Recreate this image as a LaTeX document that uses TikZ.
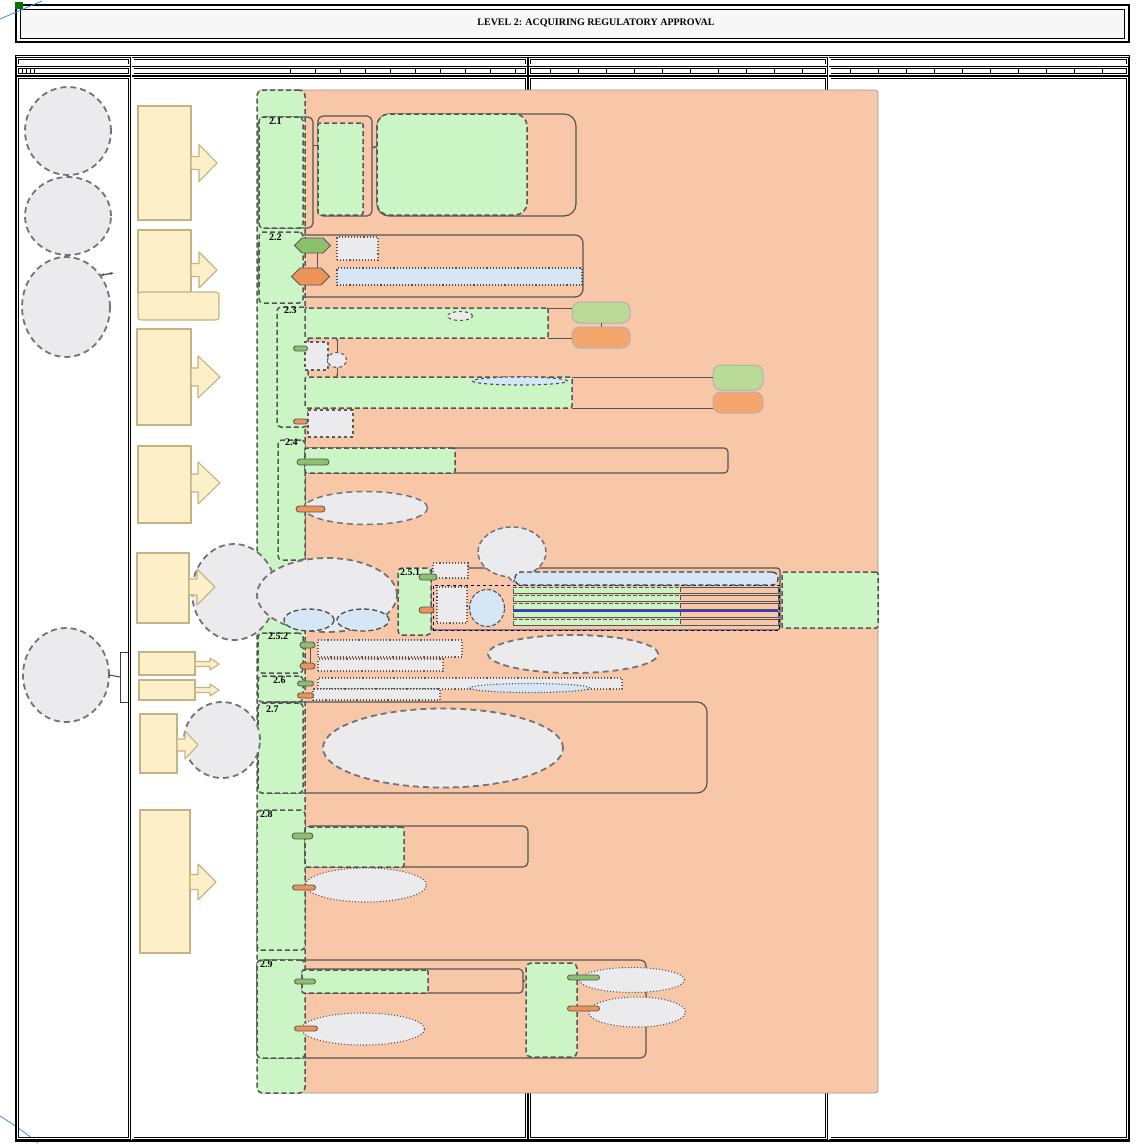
\documentclass[tikz,border=0pt]{standalone}
\usepackage{fontspec}
\setmainfont{Liberation Serif}
\usetikzlibrary{shapes.geometric,shapes.misc,shapes.symbols,shapes.callouts,arrows.meta}
\definecolor{salmonfill}{RGB}{248,199,167}
\definecolor{lanegreen}{RGB}{203,245,197}
\definecolor{notegrey}{RGB}{235,235,237}
\definecolor{noteblue}{RGB}{213,230,246}
\definecolor{inputfill}{RGB}{253,239,199}
\definecolor{inputline}{RGB}{196,180,132}
\definecolor{okgreen}{RGB}{140,192,108}
\definecolor{failorange}{RGB}{238,148,88}
\definecolor{resgreen}{RGB}{186,218,152}
\definecolor{resorange}{RGB}{245,166,108}
\definecolor{edgegrey}{RGB}{85,85,85}
\definecolor{markblue}{RGB}{70,140,210}
\newcommand{\inarrow}[6]{%
  \draw[inarrow] (#1.east |- 0,#2) ++(0,-#3) -- ++(#5,0) -- ++(0,{#3-#4}) -- ++(#6,#4) -- ++(-#6,#4) -- ++(0,{#3-#4}) -- ++(-#5,0) -- cycle;}
\begin{document}
\begin{tikzpicture}[x=1pt,y=-1pt,
  wh/.style 2 args={minimum width=#1,minimum height=#2,inner sep=0pt,outer sep=0pt},
  nw/.style={anchor=north west},
  colframe/.style={draw,line width=0.7pt,double,double distance=1.4pt},
  inputbox/.style={draw=inputline,fill=inputfill,line width=1.1pt},
  inarrow/.style={draw=inputline,fill=inputfill,line width=1.1pt,line join=round},
  note/.style={ellipse,draw=black!55,fill=notegrey,dash pattern=on 6pt off 4pt,line width=1.8pt},
  phase/.style={draw=edgegrey,fill=lanegreen,dash pattern=on 5pt off 3pt,line width=1.5pt,rounded corners=6pt},
  secbox/.style={phase,rounded corners=4pt},
  task/.style={draw=edgegrey,fill=lanegreen,dash pattern=on 5pt off 3pt,line width=1.5pt,rounded corners=2pt},
  lane/.style={draw=edgegrey,line width=1.2pt,rounded corners=6pt},
  memo/.style={draw=gray!70!black,fill=notegrey,dotted,line width=1.1pt},
  bluememo/.style={draw=gray!60!black,fill=noteblue,dotted,line width=1.1pt},
  passpill/.style={rounded rectangle,draw=edgegrey,fill=okgreen,line width=0.8pt},
  failpill/.style={rounded rectangle,draw=edgegrey,fill=failorange,line width=0.8pt},
  passhex/.style={signal,signal to=east and west,draw=edgegrey,fill=okgreen,line width=0.8pt},
  failhex/.style={signal,signal to=east and west,draw=edgegrey,fill=failorange,line width=0.8pt},
  result/.style={draw=gray!60,line width=1pt,rounded corners=8pt},
  conn/.style={draw=edgegrey,line width=1pt},
  seclabel/.style={font=\fontsize{10}{11}\selectfont\bfseries,inner sep=0pt}]
\useasboundingbox (0,0) rectangle (1145,1143);

\node[draw,line width=2.2pt,wh={1113}{37},nw] (frame) at (16,5) {};
\node[draw,line width=1pt,fill=gray!6,wh={1104}{29},nw] (titlebox) at (20.5,9.5) {};
\node[font=\fontsize{10}{12}\selectfont\bfseries,inner sep=0pt] (title) at (596,23) {LEVEL 2: ACQUIRING REGULATORY APPROVAL};
\fill[green!45!black] (15,2) rectangle (23,9);
\draw[markblue,line width=0.8pt] (0,19) -- (42,1);
\draw[markblue,line width=0.8pt] (0,1116) .. controls (15,1125) and (28,1135) .. (38,1143);

\draw[line width=1.4pt] (15.5,55.5) rectangle (1129.5,1141);
\foreach \a/\b in {17.5/129.5,133/526.5,529.5/826.5,830/1127.5}{
  \draw[colframe] (\a,58.5) rectangle (\b,65);
  \draw[colframe] (\a,67.5) rectangle (\b,74.5);
  \draw[colframe] (\a,77.5) rectangle (\b,1138.5);
}
\foreach \x in {290,315,...,515} \draw (\x,68) -- (\x,74);
\foreach \x in {550,578,...,815} \draw (\x,68) -- (\x,74);
\foreach \x in {850,878,...,1115} \draw (\x,68) -- (\x,74);
\foreach \x in {22,26,30,34} \draw (\x,68) -- (\x,74);

\node[draw=gray!80,fill=salmonfill,line width=0.8pt,rounded corners=3pt,wh={620}{1003},nw] (approval) at (258,90) {};
\node[phase,wh={48}{1003},nw] (steps) at (257,90) {};

\node[lane,rounded corners=5pt,wh={54}{111},nw] (lane21) at (259,117) {};
\node[secbox,wh={44}{111},nw] (s21) at (259,117) {};
\node[lane,rounded corners=5pt,wh={54}{100},nw] (lane21b) at (318,116) {};
\node[task,wh={45}{92},nw] (g21a) at (318,123) {};
\node[lane,rounded corners=12pt,wh={199}{102},nw] (lane21c) at (377,114) {};
\node[task,rounded corners=12pt,wh={150}{101},nw] (g21b) at (377,114) {};
\draw[conn] (lane21.east |- 0,145) -- (lane21b.west |- 0,145);
\draw[conn,-{Stealth[length=4pt]}] (lane21b.east |- 0,147) -- (g21b.west |- 0,147);
\node[seclabel,nw] (l21) at (269,118) {2.1};

\node[lane,rounded corners=8pt,wh={324}{62},nw] (lane22) at (259,235) {};
\node[secbox,wh={44}{71},nw] (s22) at (259,232) {};
\draw[conn] (317,245) -- (317,276);
\node[passhex,wh={36}{15},nw] (h22a) at (302,238) {};
\node[memo,wh={41}{23},nw] (b22a) at (337,237) {};
\node[failhex,wh={38}{17},nw] (h22b) at (300,268) {};
\node[bluememo,wh={245}{17},nw] (b22b) at (337,268) {};
\node[seclabel,nw] (l22) at (269,234) {2.2};

\node[secbox,wh={31}{120},nw] (s23) at (277,307) {};
\node[task,wh={243}{30},nw] (g23a) at (305,308) {};
\node[result,fill=resgreen,wh={58}{21},nw] (gr23a) at (572,302) {};
\node[result,fill=resorange,wh={58}{21},nw] (go23a) at (572,327) {};
\draw[conn] (gr23a) -- (go23a);
\draw[conn] (g23a.north east) -- (g23a.north east -| gr23a.west);
\draw[conn] (g23a.south east) -- (g23a.south east -| go23a.west);
\node[memo,dashed,ellipse,wh={25}{9}] (e23a) at (460,316) {};
\node[task,wh={267}{31},nw] (g23b) at (305,377) {};
\node[result,fill=resgreen,wh={50}{25},nw] (gr23b) at (713,365) {};
\node[result,fill=resorange,wh={50}{21},nw] (go23b) at (713,392) {};
\draw[conn] (g23b.north east) -- (g23b.north east -| gr23b.west);
\draw[conn] (g23b.south east) -- (g23b.south east -| go23b.west);
\node[bluememo,dashed,ellipse,wh={95}{8}] (e23b) at (520,381) {};
\draw[conn,{Stealth[length=3pt]}-{Stealth[length=3pt]}] (g23a.south -| 337,0) -- (g23b.north -| 337,0);
\node[memo,dashed,line width=1.4pt,wh={23}{28},nw] (s23a) at (305,342) {};
\node[memo,dashed,ellipse,wh={19}{15}] (c23) at (337,360) {};
\node[memo,dashed,line width=1.4pt,wh={45}{27},nw] (s23b) at (308,410) {};
\node[passpill,wh={14}{5},nw] (p23a) at (296,346) {};
\node[failpill,wh={14}{5},nw] (p23b) at (296,419) {};
\node[seclabel,nw] (l23) at (284,307) {2.3};

\node[secbox,wh={27}{120},nw] (s24) at (278,440) {};
\node[lane,rounded corners=4pt,wh={423}{25},nw] (lane24) at (305,448) {};
\node[task,wh={150}{25},nw] (g24) at (305,448) {};
\node[passpill,wh={32}{6},nw] (p24a) at (300,459) {};
\node[note,line width=1.5pt,wh={123}{33}] (e24) at (366,508) {};
\node[failpill,wh={29}{6},nw] (p24b) at (299,506) {};
\node[seclabel,nw] (l24) at (285,439) {2.4};

\node[lane,rounded corners=3pt,wh={349}{62},nw] (lane251) at (431,568) {};
\node[secbox,wh={33}{67},nw] (s251) at (398,568) {};
\node[draw=blue!45!black,dashed,line width=1pt,wh={346}{45},nw] (bl251) at (433,585) {};
\foreach \y [count=\i] in {587,595,603,611,619}{
  \node[draw=edgegrey,line width=0.9pt,wh={265}{6},nw] (st\i) at (513,\y) {};
  \node[task,line width=1pt,dash pattern=on 4pt off 2pt,rounded corners=0pt,wh={167}{6},nw] (sg\i) at (513,\y) {};
}
\draw[draw=blue!55!gray,line width=1.1pt] (st4.north east) -- (st4.north west);
\node[memo,wh={35}{15},nw] (b251) at (433,563) {};
\node[ellipse callout,draw=black!55,fill=notegrey,dash pattern=on 5pt off 3pt,line width=1.5pt,wh={68}{50},callout absolute pointer={(513,582)}] (e251c) at (512,552) {};
\node[draw=gray!50!black,fill=noteblue,dash pattern=on 5pt off 3pt,line width=1.3pt,rounded corners=6pt,wh={263}{13},nw] (band251) at (515,572) {};
\node[memo,wh={30}{36},nw] (s251b) at (437,587) {};
\node[ellipse,draw=gray!60!black,fill=noteblue,dash pattern=on 4pt off 2pt,line width=1pt,wh={35}{37}] (e251) at (487,608) {};
\node[passpill,wh={18}{6},nw] (p251a) at (422,574) {};
\node[failpill,wh={15}{6},nw] (p251b) at (422,607) {};
\node[task,wh={96}{56},nw] (g251r) at (782,572) {};
\node[seclabel,nw] (l251) at (400,569) {2.5.1};

\node[secbox,wh={45}{40},nw] (s252) at (258,633) {};
\draw[conn] (310,645) -- (310,666);
\node[passpill,wh={15}{6},nw] (p252a) at (303,642) {};
\node[memo,wh={144}{17},nw] (b252a) at (318,640) {};
\node[failpill,wh={15}{6},nw] (p252b) at (303,663) {};
\node[memo,wh={125}{12},nw] (b252b) at (318,659) {};
\node[note,wh={170}{38}] (e252) at (573,654) {};
\node[seclabel,nw] (l252) at (268,633) {2.5.2};

\node[secbox,wh={45}{26},nw] (s26) at (258,676) {};
\node[memo,wh={304}{11},nw] (b26a) at (318,678) {};
\node[bluememo,ellipse,wh={120}{9}] (e26) at (530,688) {};
\node[memo,wh={127}{11},nw] (b26b) at (313,689) {};
\node[passpill,wh={16}{5},nw] (p26a) at (300,681) {};
\node[failpill,wh={16}{5},nw] (p26b) at (300,693) {};
\node[seclabel,nw] (l26) at (273,677) {2.6};

\node[lane,rounded corners=10pt,wh={449}{91},nw] (lane27) at (258,702) {};
\node[secbox,wh={45}{90},nw] (s27) at (258,703) {};
\node[note,wh={240}{79}] (e27) at (443,748) {};
\node[seclabel,nw] (l27) at (266,706) {2.7};

\node[secbox,wh={48}{140},nw] (s28) at (257,810) {};
\node[lane,rounded corners=5pt,wh={223}{41},nw] (lane28) at (305,826) {};
\node[task,wh={99}{40},nw] (g28) at (305,827) {};
\node[passpill,wh={21}{6},nw] (p28a) at (295,833) {};
\node[memo,ellipse,wh={121}{34}] (e28) at (366,885) {};
\node[failpill,wh={23}{5},nw] (p28b) at (295,885) {};
\node[seclabel,nw] (l28) at (260,811) {2.8};

\node[lane,wh={389}{98},nw] (lane29) at (257,960) {};
\node[secbox,wh={48}{98},nw] (s29) at (257,960) {};
\node[lane,rounded corners=4pt,wh={221}{24},nw] (lane29a) at (302,969) {};
\node[task,wh={126}{23},nw] (g29) at (302,970) {};
\node[task,rounded corners=5pt,wh={51}{94},nw] (g29b) at (526,963) {};
\draw[conn,-{Stealth[length=3pt]}] (lane29a.east) -- (lane29a.east -| g29b.west);
\node[passpill,wh={21}{5},nw] (p29a) at (297,979) {};
\node[memo,ellipse,wh={123}{32}] (e29a) at (363,1029) {};
\node[failpill,wh={23}{5},nw] (p29b) at (297,1026) {};
\node[memo,ellipse,wh={105}{25}] (e29b) at (632,980) {};
\node[memo,ellipse,wh={97}{30}] (e29c) at (637,1012) {};
\node[passpill,wh={32}{5},nw] (p29c) at (570,975) {};
\node[failpill,wh={32}{5},nw] (p29d) at (570,1006) {};
\node[seclabel,nw] (l29) at (260,961) {2.9};

\node[note,wh={84}{96}] (n5) at (234,592) {};
\node[note,wh={140}{74}] (e25) at (327,595) {};
\node[ellipse,draw=gray!60!black,fill=noteblue,dash pattern=on 5pt off 3pt,line width=1.3pt,wh={50}{22}] (e25a) at (309,620) {};
\node[ellipse,draw=gray!60!black,fill=noteblue,dash pattern=on 5pt off 3pt,line width=1.3pt,wh={52}{22}] (e25b) at (363,620) {};
\node[note,wh={76}{76}] (n8) at (222,740) {};

\node[inputbox,wh={53}{114},nw] (in1) at (138,106) {};
\inarrow{in1}{163}{6.5}{18.5}{8}{18}
\node[inputbox,wh={53}{63},nw] (in2) at (138,230) {};
\inarrow{in2}{270}{6.5}{18}{8}{18}
\node[inputbox,rounded corners=3pt,wh={81}{28},nw] (in2b) at (138,292) {};
\node[inputbox,wh={54}{96},nw] (in3) at (137,329) {};
\inarrow{in3}{377}{9}{21}{7}{22}
\node[inputbox,wh={53}{77},nw] (in4) at (138,446) {};
\inarrow{in4}{483}{9}{21}{7}{22}
\node[inputbox,wh={52}{70},nw] (in5) at (137,553) {};
\inarrow{in5}{587}{8}{18}{8}{18}
\node[inputbox,wh={56}{23},nw] (in6) at (139,652) {};
\inarrow{in6}{664}{2.5}{6}{15}{9}
\node[inputbox,wh={56}{20},nw] (in7) at (139,680) {};
\inarrow{in7}{690}{2.5}{6}{15}{9}
\node[inputbox,wh={37}{59},nw] (in8) at (140,714) {};
\inarrow{in8}{745}{6}{14}{8}{13}
\node[inputbox,wh={50}{143},nw] (in9) at (140,810) {};
\inarrow{in9}{882}{7.5}{18}{8}{18}

\node[note,wh={86}{88}] (c1) at (68,131) {};
\node[note,wh={86}{78}] (c2) at (68,216) {};
\node[note,wh={88}{100}] (c3) at (66,307) {};
\coordinate (c3r) at (114,273);
\draw[conn,line width=1.3pt,{Stealth[length=4pt]}-{Stealth[length=4pt]}] (c3.43) -- (c3r);
\node[note,wh={86}{94}] (c4) at (66,675) {};
\coordinate (c4br) at (120,677);
\draw[conn,gray!50!black] (c4.east) -- (c4br);
\draw[conn,gray!50!black] (128,652) -- (120,652) -- (120,702) -- (128,702);
\end{tikzpicture}
\end{document}
